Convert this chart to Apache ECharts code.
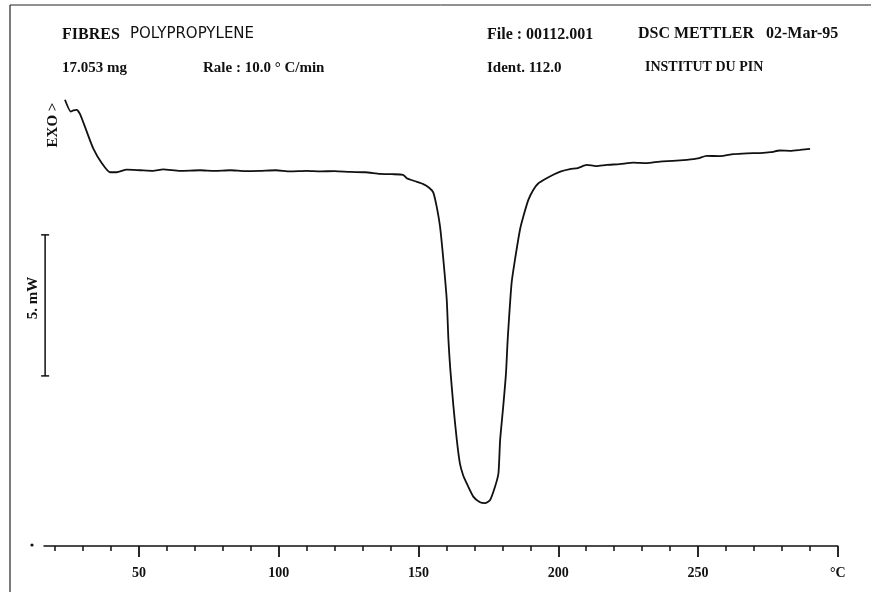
<!DOCTYPE html>
<html>
<head>
<meta charset="utf-8">
<title>DSC - Fibres polypropylene</title>
<script src="https://cdn.jsdelivr.net/npm/echarts@6.0.0/dist/echarts.min.js"></script>
<style>
html,body{margin:0;padding:0;background:#fff;}
#dsc_chart{width:871px;height:592px;}
</style>
</head>
<body>
<div id="dsc_chart"></div>
<script>
// temperature (°C)
var temps = [23.5, 25.6, 26.5, 27.7, 28.9, 31.3, 33.6, 36.7, 39.6, 42.0, 45.6, 50.4,
	55.0, 58.6, 64.7, 71.8, 77.0, 82.6, 88.0, 93.3, 99.0, 104.0, 110.0, 114.8, 120.0,
	125.5, 131.0, 136.2, 140.5, 144.5, 145.8, 148.5, 151.7, 153.8, 155.3, 156.5, 157.7,
	158.9, 160.1, 160.7, 161.3, 162.5, 163.7, 164.8, 166.0, 167.2, 169.6, 172.0, 173.8,
	175.6, 177.4, 178.6, 179.2, 180.3, 181.3, 181.9, 183.3, 184.5, 186.3, 187.5, 189.3,
	191.1, 192.9, 195.5, 198.2, 201.0, 204.2, 207.0, 210.2, 213.5, 217.3, 222.0, 226.9,
	231.5, 236.4, 241.0, 246.0, 250.0, 253.1, 258.0, 262.6, 267.5, 272.2, 276.0, 279.3,
	283.0, 286.5, 290.1];
// heat flow (mW), relative to the baseline
var heatFlow = [2.52, 2.10, 2.14, 2.16, 2.01, 1.39, 0.80, 0.27, -0.05, -0.05, 0.04, 0.02,
	0.00, 0.05, 0.00, 0.02, 0.00, 0.02, -0.01, 0.00, 0.02, -0.02, 0.00, -0.02, -0.01,
	-0.04, -0.05, -0.11, -0.12, -0.14, -0.26, -0.36, -0.47, -0.60, -0.77, -1.27, -1.98,
	-3.16, -4.57, -5.99, -6.94, -8.36, -9.54, -10.37, -10.80, -11.07, -11.55, -11.75, -11.78,
	-11.67, -11.19, -10.72, -9.54, -8.36, -7.17, -5.99, -3.98, -3.16, -2.09, -1.62, -1.03,
	-0.67, -0.44, -0.28, -0.14, -0.02, 0.06, 0.10, 0.21, 0.17, 0.21, 0.24, 0.29,
	0.27, 0.33, 0.35, 0.39, 0.44, 0.53, 0.52, 0.59, 0.62, 0.63, 0.66, 0.72,
	0.71, 0.74, 0.78];

// 5 mW scale bar on the left
var scaleBarT  = [16.4, 16.4];
var scaleBarMw = [-2.27, -7.27];

// axis ticks
var minorTicks = [20, 30, 40, 60, 70, 80, 90, 110, 120, 130, 140, 160, 170, 180, 190,
	210, 220, 230, 240, 260, 270, 280, 290];
var majorTicks = [50, 100, 150, 200, 250, 300];
var tickLabels = ['50', '100', '150', '200', '250', '°C'];

var serifFont = '"Liberation Serif", "DejaVu Serif", serif';

function buildPairs(xs, ys) {
	var out = [];
	for (var i = 0; i < xs.length; i++) {
		out.push([xs[i], ys[i]]);
	}
	return out;
}

function headerText(x, y, str, font) {
	return {
		type: 'text',
		left: x,
		top: y,
		style: {
			text: str,
			font: font,
			fill: '#111'
		}
	};
}

function showDscChart() {
	var myChart = echarts.init(document.getElementById('dsc_chart'));
	var row1 = 'bold 16px ' + serifFont;
	var row2 = 'bold 15px ' + serifFont;
	var option = {
		animation: false,
		backgroundColor: '#fff',
		grid: { left: 44, right: 33.25, top: 58, bottom: 46 },
		xAxis: [{
			type: 'value',
			min: 16,
			max: 300,
			splitLine: { show: false },
			axisLine: { show: true, onZero: false, lineStyle: { color: '#111', width: 1.5 } },
			axisTick: { show: true, length: 5, customValues: minorTicks, lineStyle: { color: '#111', width: 1.5 } },
			axisLabel: { show: false }
		}, {
			type: 'value',
			min: 16,
			max: 300,
			position: 'bottom',
			splitLine: { show: false },
			axisLine: { show: false, onZero: false },
			axisTick: { show: true, length: 11, customValues: majorTicks, lineStyle: { color: '#111', width: 1.8 } },
			axisLabel: {
				show: true,
				margin: 20,
				customValues: majorTicks,
				color: '#111',
				fontFamily: serifFont,
				fontWeight: 'bold',
				fontSize: 14,
				formatter: function(v) {
					var idx = majorTicks.indexOf(v);
					return idx >= 0 ? tickLabels[idx] : '';
				}
			}
		}],
		yAxis: [{
			type: 'value',
			min: -13.3,
			max: 4,
			show: false
		}],
		series: [{
			name: 'DSC',
			type: 'line',
			data: buildPairs(temps, heatFlow),
			showSymbol: false,
			symbol: 'none',
			smooth: 0.2,
			lineStyle: { color: '#111', width: 1.8 }
		}, {
			name: 'scale',
			type: 'line',
			data: buildPairs(scaleBarT, scaleBarMw),
			symbol: 'rect',
			symbolSize: [8, 1.5],
			showSymbol: true,
			itemStyle: { color: '#111' },
			lineStyle: { color: '#111', width: 1.5 }
		}],
		graphic: [
			// frame of the scanned sheet
			{ type: 'line', shape: { x1: 10, y1: 5, x2: 10, y2: 592 }, style: { stroke: '#222', lineWidth: 1.2 } },
			{ type: 'line', shape: { x1: 10, y1: 5, x2: 871, y2: 5 }, style: { stroke: '#222', lineWidth: 1 } },
			{ type: 'circle', shape: { cx: 32, cy: 545, r: 1.6 }, style: { fill: '#111' } },
			headerText(62, 27, 'FIBRES', row1),
			headerText(130, 27, 'POLYPROPYLENE', '15px "DejaVu Sans", sans-serif'),
			headerText(487, 27, 'File : 00112.001', row1),
			headerText(638, 26, 'DSC METTLER', row1),
			headerText(766, 26, '02-Mar-95', row1),
			headerText(62, 61, '17.053 mg', row2),
			headerText(203, 61, 'Rale : 10.0 ° C/min', row2),
			headerText(487, 61, 'Ident. 112.0', row2),
			headerText(645, 60, 'INSTITUT DU PIN', 'bold 14px ' + serifFont),
			{
				type: 'text',
				x: 53, y: 125,
				rotation: Math.PI / 2,
				style: { text: 'EXO >', font: 'bold 15px ' + serifFont, fill: '#111', align: 'center', verticalAlign: 'middle' }
			},
			{
				type: 'text',
				x: 33, y: 298,
				rotation: Math.PI / 2,
				style: { text: '5. mW', font: 'bold 15px ' + serifFont, fill: '#111', align: 'center', verticalAlign: 'middle' }
			}
		]
	};
	myChart.setOption(option);
}

showDscChart();
</script>
</body>
</html>
